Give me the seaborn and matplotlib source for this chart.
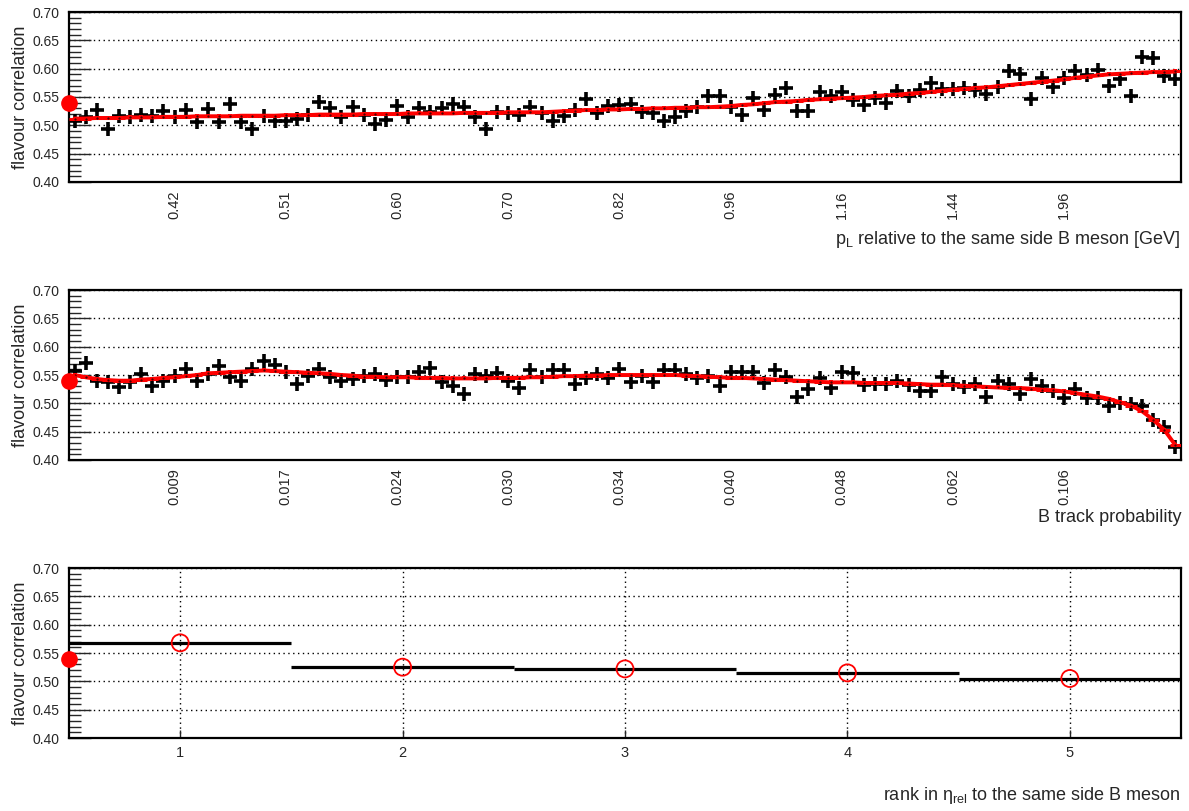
import numpy as np
import matplotlib
matplotlib.use("Agg")
import matplotlib.pyplot as plt
import seaborn as sns
from matplotlib.ticker import MultipleLocator

sns.set_style("ticks")
plt.rcParams['font.family'] = ['Liberation Sans', 'DejaVu Sans']

# overall flavour correlation (red dot on the y axis)
avg_corr = 0.539

# p_L relative to the same side B meson, 100 bins
pl_corr = [0.507, 0.515, 0.527, 0.493, 0.516, 0.514, 0.518, 0.517, 0.525, 0.514,
           0.527, 0.505, 0.529, 0.505, 0.537, 0.505, 0.494, 0.516, 0.508, 0.508,
           0.511, 0.518, 0.542, 0.530, 0.514, 0.533, 0.518, 0.502, 0.509, 0.534,
           0.514, 0.531, 0.524, 0.531, 0.538, 0.532, 0.515, 0.493, 0.524, 0.521,
           0.518, 0.533, 0.521, 0.507, 0.516, 0.527, 0.546, 0.521, 0.534, 0.536,
           0.537, 0.524, 0.521, 0.507, 0.514, 0.525, 0.533, 0.551, 0.551, 0.532,
           0.519, 0.549, 0.527, 0.554, 0.565, 0.525, 0.525, 0.558, 0.551, 0.559,
           0.545, 0.536, 0.549, 0.540, 0.561, 0.552, 0.562, 0.575, 0.564, 0.564,
           0.565, 0.562, 0.556, 0.567, 0.595, 0.591, 0.547, 0.583, 0.568, 0.583,
           0.595, 0.589, 0.598, 0.569, 0.581, 0.552, 0.621, 0.619, 0.587, 0.582]
pl_fit = [0.512, 0.512, 0.513, 0.513, 0.513, 0.514, 0.514, 0.514, 0.515, 0.515,
          0.515, 0.516, 0.516, 0.516, 0.516, 0.517, 0.517, 0.517, 0.517, 0.518,
          0.518, 0.518, 0.519, 0.519, 0.519, 0.519, 0.520, 0.520, 0.520, 0.520,
          0.521, 0.521, 0.521, 0.521, 0.521, 0.522, 0.522, 0.522, 0.522, 0.523,
          0.523, 0.523, 0.523, 0.524, 0.525, 0.526, 0.527, 0.527, 0.528, 0.528,
          0.529, 0.529, 0.530, 0.530, 0.531, 0.531, 0.532, 0.532, 0.533, 0.534,
          0.536, 0.537, 0.539, 0.541, 0.542, 0.543, 0.545, 0.546, 0.547, 0.548,
          0.549, 0.550, 0.552, 0.553, 0.554, 0.556, 0.557, 0.559, 0.561, 0.563,
          0.564, 0.566, 0.567, 0.569, 0.571, 0.573, 0.575, 0.577, 0.579, 0.581,
          0.584, 0.586, 0.588, 0.590, 0.591, 0.592, 0.593, 0.594, 0.594, 0.595]
pl_labels = ['0.42', '0.51', '0.60', '0.70', '0.82', '0.96', '1.16', '1.44', '1.96']

# B track probability, 100 bins
prob_corr = [0.557, 0.571, 0.539, 0.537, 0.528, 0.538, 0.551, 0.531, 0.540, 0.549,
             0.561, 0.540, 0.552, 0.566, 0.547, 0.539, 0.561, 0.574, 0.568, 0.556,
             0.534, 0.549, 0.561, 0.546, 0.539, 0.543, 0.549, 0.552, 0.542, 0.546,
             0.547, 0.555, 0.563, 0.537, 0.531, 0.517, 0.552, 0.549, 0.553, 0.540,
             0.527, 0.559, 0.547, 0.558, 0.558, 0.534, 0.544, 0.551, 0.545, 0.561,
             0.537, 0.549, 0.537, 0.558, 0.558, 0.551, 0.545, 0.549, 0.531, 0.556,
             0.556, 0.555, 0.536, 0.558, 0.546, 0.511, 0.525, 0.545, 0.527, 0.555,
             0.553, 0.532, 0.534, 0.535, 0.539, 0.532, 0.521, 0.522, 0.546, 0.535,
             0.529, 0.534, 0.512, 0.539, 0.535, 0.517, 0.543, 0.531, 0.521, 0.510,
             0.525, 0.510, 0.510, 0.496, 0.500, 0.499, 0.496, 0.471, 0.458, 0.423]
prob_fit = [0.550, 0.546, 0.543, 0.541, 0.540, 0.540, 0.542, 0.543, 0.545, 0.546,
            0.548, 0.550, 0.553, 0.554, 0.555, 0.556, 0.557, 0.558, 0.557, 0.556,
            0.555, 0.554, 0.553, 0.552, 0.550, 0.549, 0.547, 0.547, 0.546, 0.546,
            0.546, 0.545, 0.545, 0.545, 0.544, 0.544, 0.544, 0.544, 0.545, 0.545,
            0.545, 0.546, 0.546, 0.547, 0.548, 0.548, 0.549, 0.549, 0.550, 0.550,
            0.550, 0.550, 0.550, 0.550, 0.550, 0.549, 0.548, 0.547, 0.546, 0.545,
            0.545, 0.544, 0.543, 0.542, 0.541, 0.540, 0.539, 0.538, 0.537, 0.537,
            0.537, 0.536, 0.536, 0.536, 0.536, 0.535, 0.534, 0.533, 0.533, 0.532,
            0.531, 0.530, 0.529, 0.528, 0.527, 0.527, 0.526, 0.524, 0.523, 0.521,
            0.518, 0.515, 0.512, 0.508, 0.502, 0.496, 0.486, 0.471, 0.453, 0.426]
prob_labels = ['0.009', '0.017', '0.024', '0.030', '0.034', '0.040', '0.048', '0.062', '0.106']

# rank in eta_rel
rank = [1, 2, 3, 4, 5]
rank_corr = [0.568, 0.525, 0.522, 0.515, 0.505]

bins = np.arange(1, len(pl_corr) + 1)
label_bins = [10, 20, 30, 40, 50, 60, 70, 80, 90]

fig = plt.figure(figsize=(11.89, 8.11), dpi=100)
left, width, height = 0.058, 0.9353, 0.2096
ax1 = fig.add_axes([left, 0.7756, width, height])
ax2 = fig.add_axes([left, 0.4328, width, height])
ax3 = fig.add_axes([left, 0.0900, width, height])


def style_axis(ax):
    ax.set_ylim(0.40, 0.70)
    ax.yaxis.set_major_locator(MultipleLocator(0.05))
    ax.yaxis.set_minor_locator(MultipleLocator(0.01))
    ax.yaxis.set_major_formatter(matplotlib.ticker.FormatStrFormatter('%.2f'))
    ax.tick_params(axis='y', which='major', direction='in', length=16, width=1,
                   labelsize=10, pad=7)
    ax.tick_params(axis='y', which='minor', direction='in', length=8.5, width=1)
    ax.yaxis.grid(True, which='major', linestyle=(0, (1, 2.5)), color='black', lw=1)
    for s in ax.spines.values():
        s.set_linewidth(1.6)
        s.set_color('black')
    ax.set_ylabel('flavour correlation', fontsize=13, labelpad=2)
    ax.set_axisbelow(True)


def binned_panel(ax, corr, fit, labels, title):
    style_axis(ax)
    sns.scatterplot(x=bins, y=corr, ax=ax, marker='+', s=115, color='black',
                    linewidth=2.6, zorder=3)
    ax.errorbar(bins, fit, xerr=0.5, fmt='none', ecolor='red', elinewidth=2.2,
                zorder=4)
    sns.lineplot(x=bins, y=fit, ax=ax, color='red', lw=2.8, marker='s',
                 markersize=2.5, markeredgewidth=0, zorder=5)
    ax.plot(bins, fit, linestyle='none', marker='.', markersize=1.2,
            color='#400000', zorder=6)
    ax.set_xlim(0.5, len(corr) + 0.5)
    ax.set_xticks(label_bins)
    ax.set_xticklabels(labels, rotation=90, fontsize=10.5)
    ax.tick_params(axis='x', length=0, pad=6)
    ax.plot([0.5], [avg_corr], 'o', color='red', markersize=11, clip_on=False,
            zorder=10)
    ax.set_xlabel('')
    ax.text(1.0, -0.34, title, transform=ax.transAxes, ha='right', va='center',
            fontsize=13)


binned_panel(ax1, pl_corr, pl_fit, pl_labels,
             r'p$_{\mathregular{L}}$ relative to the same side B meson [GeV]')
binned_panel(ax2, prob_corr, prob_fit, prob_labels, 'B track probability')

# rank panel
style_axis(ax3)
ax3.xaxis.grid(True, linestyle=(0, (1, 2.5)), color='black', lw=1)
ax3.errorbar(rank, rank_corr, xerr=0.5, fmt='none', ecolor='black',
             elinewidth=2.3, zorder=3)
sns.scatterplot(x=rank, y=rank_corr, ax=ax3, marker='o', s=150,
                facecolor='none', edgecolor='red', linewidth=1.3, zorder=4)
ax3.set_xlim(0.5, 5.5)
ax3.set_xticks(rank)
ax3.tick_params(axis='x', direction='in', length=6, width=1, labelsize=10.5, pad=6)
ax3.plot([0.5], [avg_corr], 'o', color='red', markersize=11, clip_on=False,
         zorder=10)
ax3.text(1.0, -0.34, r'rank in η$_{\mathregular{rel}}$ to the same side B meson',
         transform=ax3.transAxes, ha='right', va='center', fontsize=13)

fig.savefig("out.png", dpi=100)
